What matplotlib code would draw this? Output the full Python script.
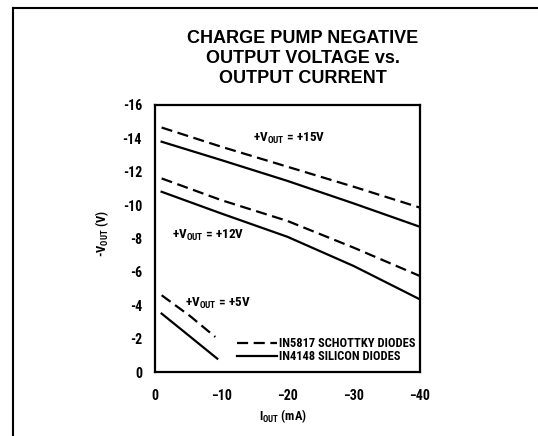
import matplotlib
matplotlib.use('Agg')
import matplotlib.pyplot as plt
from matplotlib import font_manager as fm
from matplotlib.lines import Line2D

# ---- data ----
current_ma = [-1, -10, -20, -30, -40]
v15_schottky = [-14.65, -13.5, -12.3, -11.1, -9.85]
v15_silicon = [-13.8, -12.7, -11.45, -10.1, -8.7]
v12_schottky = [-11.6, -10.3, -9.05, -7.45, -5.75]
v12_silicon = [-10.8, -9.5, -8.1, -6.35, -4.35]
current5_schottky = [-1, -5.3, -9.1]
v5_schottky = [-4.6, -3.35, -2.1]
current5_silicon = [-1, -5.3, -9.4]
v5_silicon = [-3.5, -2.12, -0.8]

xticks = [0, -10, -20, -30, -40]
xticklabels = ['0', '\u221210', '\u221220', '\u221230', '\u221240']
yticks = [0, -2, -4, -6, -8, -10, -12, -14, -16]
yticklabels = ['0', '-2', '-4', '-6', '-8', '-10', '-12', '-14', '-16']
legend_labels = ['IN5817 SCHOTTKY DIODES', 'IN4148 SILICON DIODES']
title_lines = ['CHARGE PUMP NEGATIVE', 'OUTPUT VOLTAGE vs.', 'OUTPUT CURRENT']

# ---- fonts ----
names = {f.name for f in fm.fontManager.ttflist}
narrow = next((n for n in ['Liberation Sans Narrow', 'DejaVu Sans Condensed',
                           'Roboto Condensed', 'Liberation Sans'] if n in names), 'DejaVu Sans')
plt.rcParams['font.family'] = [narrow]
plt.rcParams['mathtext.default'] = 'regular'

W, H = 538, 436
fig = plt.figure(figsize=(W / 100, H / 100), dpi=100)
ax = fig.add_axes([155 / W, 1 - 372 / H, 265 / W, 267 / H])

lw = 1.6
dash = (5, 2.5)
ax.plot(current_ma, v15_schottky, color='black', lw=lw, dashes=dash)
ax.plot(current_ma, v15_silicon, color='black', lw=lw)
ax.plot(current_ma, v12_schottky, color='black', lw=lw, dashes=dash)
ax.plot(current_ma, v12_silicon, color='black', lw=lw)
ax.plot(current5_schottky, v5_schottky, color='black', lw=lw, dashes=dash)
ax.plot(current5_silicon, v5_silicon, color='black', lw=lw)

ax.set_xlim(0, -40)
ax.set_ylim(0, -16)
ax.set_xticks(xticks)
ax.set_xticklabels(xticklabels)
ax.set_yticks(yticks)
ax.set_yticklabels(yticklabels)
ax.tick_params(axis='both', length=0, labelsize=10)
ax.tick_params(axis='y', pad=9.4)
ax.tick_params(axis='x', pad=12.5)
for lab in ax.get_xticklabels() + ax.get_yticklabels():
    lab.set_fontweight('bold')
for s in ax.spines.values():
    s.set_linewidth(1.6)

ax.set_ylabel('-V$_{OUT}$ (V)', fontsize=9, fontweight='bold', va='center')
ax.yaxis.set_label_coords(-0.2, 0.52)
ax.set_xlabel('I$_{OUT}$ (mA)', fontsize=9, fontweight='bold', va='center')
ax.xaxis.set_label_coords(0.481, -0.165)

ann_kw = dict(fontsize=9.5, fontweight='bold', ha='left', va='baseline')
ax.text(-14.8, -13.8, '+V$_{OUT}$ = +15V', **ann_kw)
ax.text(-2.5, -8.0, '+V$_{OUT}$ = +12V', **ann_kw)
ax.text(-4.5, -3.9, '+V$_{OUT}$ = +5V', **ann_kw)

handles = [Line2D([], [], color='black', lw=lw, dashes=dash),
           Line2D([], [], color='black', lw=lw)]
leg = ax.legend(handles, legend_labels, loc='center left',
                bbox_to_anchor=(236.7 / W, 1 - 350 / H), bbox_transform=fig.transFigure,
                frameon=False, borderpad=0, borderaxespad=0, handlelength=3.2,
                handletextpad=0.2, labelspacing=0.0,
                prop={'family': narrow, 'weight': 'bold', 'size': 9})

# title
for line, yb in zip(title_lines, [42.7, 63.3, 83.3]):
    fig.text(303 / W, 1 - yb / H, line, ha='center', va='baseline', fontsize=13,
             fontweight='bold', family='Liberation Sans')

# outer frame (top and left edges)
fig.add_artist(Line2D([13 / W, 1], [1 - 8 / H, 1 - 8 / H], transform=fig.transFigure,
                      color='black', lw=1.5))
fig.add_artist(Line2D([13 / W, 13 / W], [1 - 8 / H, 0], transform=fig.transFigure,
                      color='black', lw=1.5))

fig.savefig('out.png', dpi=100)
